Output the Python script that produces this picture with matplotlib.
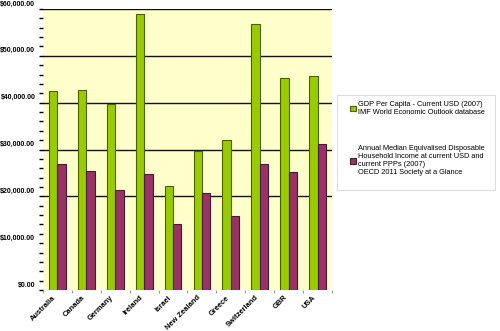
import matplotlib
matplotlib.use("Agg")
import matplotlib.pyplot as plt
import matplotlib.transforms as mtransforms
from matplotlib.patches import Rectangle
from matplotlib.ticker import MultipleLocator, FuncFormatter
import numpy as np

countries = ["Australia", "Canada", "Germany", "Ireland", "Israel",
             "New Zealand", "Greece", "Switzerland", "GBR", "USA"]
gdp_per_capita = [42550, 42700, 39650, 58900, 22200,
                  29700, 31950, 56700, 45250, 45600]
median_income = [26900, 25400, 21350, 24700, 14100,
                 20700, 15800, 26900, 25200, 31200]

gdp_label = "GDP Per Capita - Current USD (2007)\nIMF World Economic Outlook database"
income_label = ("Annual Median Equivalised Disposable\nHousehold Income at current USD and\n"
                "current PPPs (2007)\nOECD 2011 Society at a Glance")

GREEN, GREEN_EDGE = "#99cc00", "#4a6200"
PURPLE, PURPLE_EDGE = "#993366", "#4a1830"
PANEL = "#ffffcc"

plt.rcParams["font.family"] = ["Liberation Sans", "DejaVu Sans"]

fig = plt.figure(figsize=(5.0, 3.31), dpi=100)
ax = fig.add_axes([43 / 500, 1 - 290 / 331, 289 / 500, 281 / 331])
ax.set_facecolor(PANEL)

x = np.arange(len(countries))
w = 0.29
ax.bar(x - w / 2, gdp_per_capita, w, color=GREEN, edgecolor=GREEN_EDGE, linewidth=0.8,
       label=gdp_label, zorder=3)
ax.bar(x + w / 2, median_income, w, color=PURPLE, edgecolor=PURPLE_EDGE, linewidth=0.8,
       label=income_label, zorder=3)

# horizontal rules every $10k from 20k upwards
for level in range(20000, 60001, 10000):
    ax.axhline(level, color="#111100", linewidth=1.0, zorder=2)

ax.set_xlim(-0.5, len(countries) - 0.5)
ax.set_ylim(0, 60000)
for s in ax.spines.values():
    s.set_visible(False)

ax.yaxis.set_major_locator(MultipleLocator(10000))
ax.yaxis.set_minor_locator(MultipleLocator(2000))
ax.yaxis.set_major_formatter(FuncFormatter(lambda v, p: f"${v:,.2f}"))
ax.tick_params(axis="y", which="both", length=3, width=1, color="black", pad=2.5)
ax.tick_params(axis="y", labelsize=5.0)
for lab in ax.get_yticklabels():
    lab.set_fontweight("bold")
    lab.set_transform(lab.get_transform() +
                      mtransforms.ScaledTranslation(0, 0.06, fig.dpi_scale_trans))

# category boundaries get the small x ticks, names sit at the centres
ax.set_xticks(np.arange(len(countries) + 1) - 0.5)
ax.set_xticklabels([])
ax.tick_params(axis="x", which="major", length=2.5, color="#999999")
ax.set_xticks(x, minor=True)
ax.set_xticklabels(countries, minor=True, rotation=45, ha="right",
                   rotation_mode="anchor", fontsize=5.4, fontweight="bold")
ax.tick_params(axis="x", which="minor", length=0, pad=3)
for lab in ax.get_xticklabels(minor=True):
    lab.set_transform(lab.get_transform() +
                      mtransforms.ScaledTranslation(-0.05, 0, fig.dpi_scale_trans))

# legend panel
fig.patches.append(Rectangle((337 / 500, 1 - 190 / 331), 158 / 500, 95 / 331,
                             transform=fig.transFigure, facecolor="white",
                             edgecolor="#dddddd", linewidth=0.8))
handles, labels = ax.get_legend_handles_labels()
fig.legend(handles, labels, loc="upper left", bbox_to_anchor=(350 / 500, 1 - 101 / 331),
           frameon=False, fontsize=5.3, borderpad=0, borderaxespad=0,
           handlelength=0.75, handleheight=0.75, handletextpad=0.3,
           labelspacing=4.0)

fig.savefig("out.png", dpi=100)
